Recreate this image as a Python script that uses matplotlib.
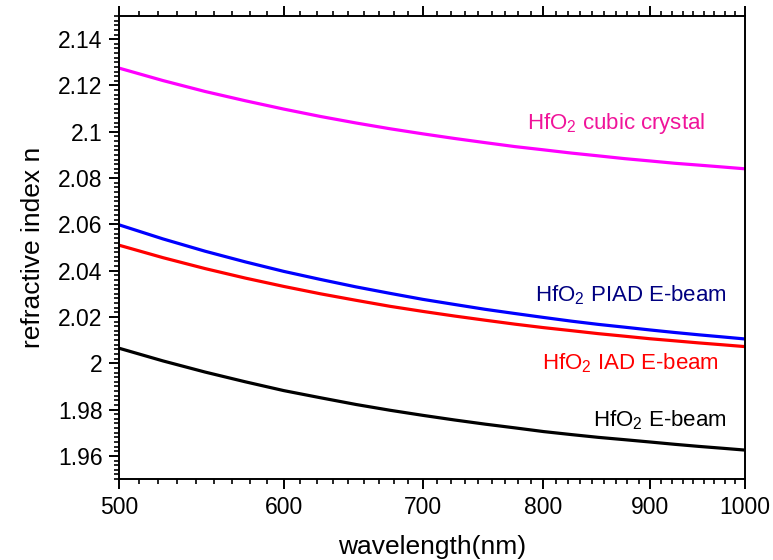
import matplotlib
matplotlib.use('Agg')
import matplotlib.pyplot as plt
from matplotlib.ticker import FixedLocator, MultipleLocator, NullFormatter, FuncFormatter

plt.rcParams['font.family'] = ['Liberation Sans', 'DejaVu Sans']
plt.rcParams['mathtext.fontset'] = 'custom'
plt.rcParams['mathtext.rm'] = 'Liberation Sans'
plt.rcParams['mathtext.default'] = 'regular'

# data
wavelength = [500, 525, 550, 575, 600, 625, 650, 675, 700, 725, 750,
              775, 800, 825, 850, 875, 900, 925, 950, 975, 1000]
n_cubic = [2.1275, 2.1221, 2.1174, 2.1134, 2.1098, 2.1066, 2.1038, 2.1013, 2.0991, 2.0971, 2.0953,
           2.0936, 2.0922, 2.0908, 2.0896, 2.0884, 2.0874, 2.0864, 2.0856, 2.0848, 2.0840]
n_piad = [2.0598, 2.0537, 2.0484, 2.0438, 2.0397, 2.0362, 2.0330, 2.0302, 2.0276, 2.0254, 2.0233,
          2.0215, 2.0198, 2.0182, 2.0168, 2.0156, 2.0144, 2.0133, 2.0123, 2.0114, 2.0105]
n_iad = [2.0510, 2.0456, 2.0409, 2.0368, 2.0332, 2.0300, 2.0272, 2.0246, 2.0224, 2.0204, 2.0186,
         2.0169, 2.0154, 2.0141, 2.0128, 2.0117, 2.0106, 2.0097, 2.0088, 2.0080, 2.0072]
n_ebeam = [2.0065, 2.0010, 1.9962, 1.9920, 1.9882, 1.9851, 1.9822, 1.9797, 1.9775, 1.9755, 1.9737,
           1.9721, 1.9705, 1.9692, 1.9680, 1.9670, 1.9660, 1.9650, 1.9641, 1.9633, 1.9625]

x_ticks = [500, 600, 700, 800, 900, 1000]
y_ticks = [1.96, 1.98, 2.0, 2.02, 2.04, 2.06, 2.08, 2.1, 2.12, 2.14]

fig = plt.figure(figsize=(7.73, 5.6), dpi=100)
ax = fig.add_axes([0.154, 0.1446, 0.8098, 0.8268])

ax.plot(wavelength, n_cubic, color='#FF00FF', lw=2.3)
ax.plot(wavelength, n_piad, color='#0000FF', lw=2.3)
ax.plot(wavelength, n_iad, color='#FF0000', lw=2.3)
ax.plot(wavelength, n_ebeam, color='#000000', lw=2.3)

# bottom axis is log scaled (tick spacing shrinks to the right)
ax.set_xscale('log')
ax.set_xlim(500, 1000)
ax.set_ylim(1.95, 2.15)

ax.xaxis.set_major_locator(FixedLocator(x_ticks))
minors = []
for a in x_ticks[:-1]:
    minors += [a + k * 100 / 9 for k in range(1, 9)]
ax.xaxis.set_minor_locator(FixedLocator(minors))
ax.xaxis.set_major_formatter(FuncFormatter(lambda v, p: '%d' % v))
ax.xaxis.set_minor_formatter(NullFormatter())

ax.yaxis.set_major_locator(FixedLocator(y_ticks))
ax.yaxis.set_minor_locator(MultipleLocator(0.002))
ax.yaxis.set_major_formatter(FuncFormatter(lambda v, p: '%g' % round(v, 3)))

ax.tick_params(which='both', direction='out', top=True, right=False, labelsize=16.5)
ax.tick_params(which='major', length=7, width=1.4, pad=5)
ax.tick_params(which='minor', length=3.6, width=1.2)
for s in ax.spines.values():
    s.set_linewidth(1.4)

ax.set_xlabel('wavelength(nm)', fontsize=19, labelpad=12)
ax.set_ylabel('refractive index n', fontsize=19, labelpad=9)

fs = 16
ax.text(785.6, 2.1011, r'HfO$_2$ cubic crystal', color='#F0149A', fontsize=fs, va='baseline')
ax.text(792.6, 2.0267, r'HfO$_2$ PIAD E-beam', color='#000080', fontsize=fs, va='baseline')
ax.text(798.5, 1.9975, r'HfO$_2$ IAD E-beam', color='#FF0000', fontsize=fs, va='baseline')
ax.text(845.4, 1.9727, r'HfO$_2$ E-beam', color='#000000', fontsize=fs, va='baseline')

fig.savefig('out.png', dpi=100)
